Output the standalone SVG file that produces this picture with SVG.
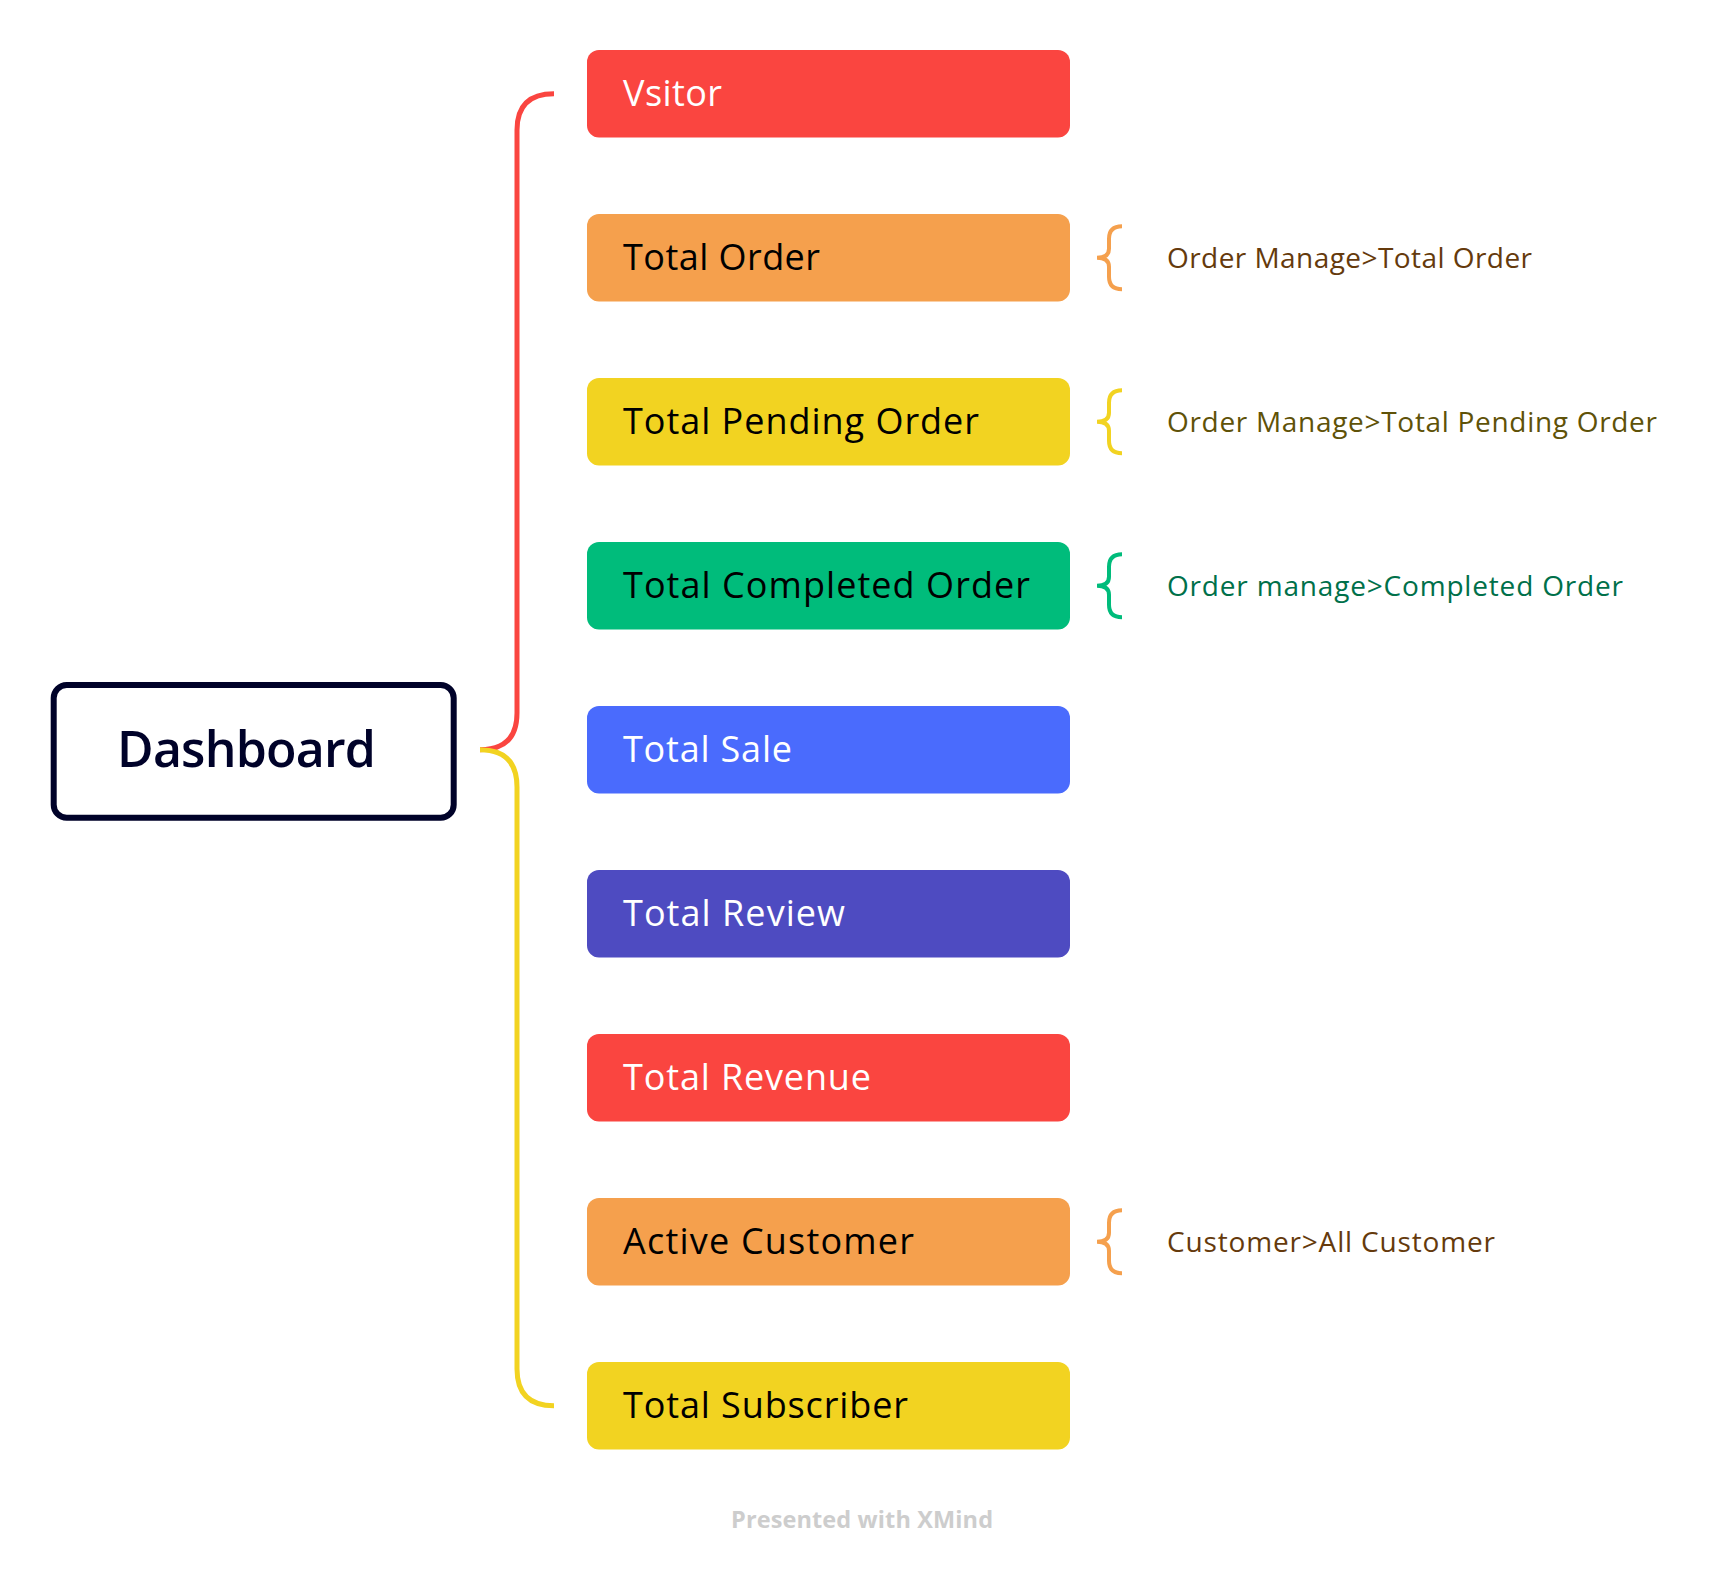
<svg xmlns="http://www.w3.org/2000/svg" width="1724" height="1570" viewBox="0 0 1724 1570">
<style>
.bg{fill:#ffffff}
.node rect{rx:12px;ry:12px}
.nt{font-family:"Open Sans","Noto Sans","Liberation Sans",sans-serif;font-size:36px}
.lbl{font-family:"Open Sans","Noto Sans","Liberation Sans",sans-serif;font-size:28px}
.w{fill:#ffffff}
.k{fill:#000000}
.br{fill:none;stroke-width:4;stroke-linecap:butt}
.main{fill:none;stroke-width:5;stroke-linecap:butt}
</style>
<rect class="bg" x="0" y="0" width="1724" height="1570"/>
<g id="connectors">
<path class="main" stroke="#FA4540" d="M554,93.75 Q517,93.75 517,130 L517,713 Q517,749.75 480,749.75"/>
<path class="main" stroke="#F2D321" d="M480,749.75 Q517,749.75 517,787 L517,1369 Q517,1405.75 554,1405.75"/>
</g>
<g id="dashboard">
<rect x="53.7" y="685" width="400" height="132.7" rx="13" ry="13" fill="#ffffff" stroke="#000229" stroke-width="6"/>
<text x="117" y="767" font-family="'Open Sans','Noto Sans','Liberation Sans',sans-serif" font-size="50" font-weight="600" fill="#000229" textLength="259">Dashboard</text>
</g>
<g id="node-vsitor" class="node">
<rect x="587" y="50" width="483" height="87.5" fill="#FA4540"/>
<text class="nt w" x="623" y="106.3" textLength="99">Vsitor</text>
</g>
<g id="node-total-order" class="node">
<rect x="587" y="214" width="483" height="87.5" fill="#F5A04D"/>
<text class="nt k" x="623" y="270.3" textLength="197">Total Order</text>
</g>
<g id="node-total-pending-order" class="node">
<rect x="587" y="378" width="483" height="87.5" fill="#F2D321"/>
<text class="nt k" x="623" y="434.3" textLength="356">Total Pending Order</text>
</g>
<g id="node-total-completed-order" class="node">
<rect x="587" y="542" width="483" height="87.5" fill="#00BC7B"/>
<text class="nt k" x="623" y="598.3" textLength="407">Total Completed Order</text>
</g>
<g id="node-total-sale" class="node">
<rect x="587" y="706" width="483" height="87.5" fill="#4A6BFD"/>
<text class="nt w" x="623" y="762.3" textLength="169">Total Sale</text>
</g>
<g id="node-total-review" class="node">
<rect x="587" y="870" width="483" height="87.5" fill="#4E4BC1"/>
<text class="nt w" x="623" y="926.3" textLength="222">Total Review</text>
</g>
<g id="node-total-revenue" class="node">
<rect x="587" y="1034" width="483" height="87.5" fill="#FA4540"/>
<text class="nt w" x="623" y="1090.3" textLength="248">Total Revenue</text>
</g>
<g id="node-active-customer" class="node">
<rect x="587" y="1198" width="483" height="87.5" fill="#F5A04D"/>
<text class="nt k" x="623" y="1254.3" textLength="291">Active Customer</text>
</g>
<g id="node-total-subscriber" class="node">
<rect x="587" y="1362" width="483" height="87.5" fill="#F2D321"/>
<text class="nt k" x="623" y="1418.3" textLength="285">Total Subscriber</text>
</g>
<g id="summary-total-order">
<path class="br" stroke="#F5A04D" d="M1122,226.25 Q1109,226.25 1109,238.75 L1109,248.75 Q1109,257.75 1097,257.75 Q1109,257.75 1109,266.75 L1109,276.75 Q1109,289.25 1122,289.25"/>
<text class="lbl" x="1167" y="268" fill="#653A0C" textLength="365">Order Manage&gt;Total Order</text>
</g>
<g id="summary-total-pending-order">
<path class="br" stroke="#F2D321" d="M1122,390.25 Q1109,390.25 1109,402.75 L1109,412.75 Q1109,421.75 1097,421.75 Q1109,421.75 1109,430.75 L1109,440.75 Q1109,453.25 1122,453.25"/>
<text class="lbl" x="1167" y="432" fill="#5F5208" textLength="490">Order Manage&gt;Total Pending Order</text>
</g>
<g id="summary-total-completed-order">
<path class="br" stroke="#00BC7B" d="M1122,554.25 Q1109,554.25 1109,566.75 L1109,576.75 Q1109,585.75 1097,585.75 Q1109,585.75 1109,594.75 L1109,604.75 Q1109,617.25 1122,617.25"/>
<text class="lbl" x="1167" y="596" fill="#00704A" textLength="456">Order manage&gt;Completed Order</text>
</g>
<g id="summary-active-customer">
<path class="br" stroke="#F5A04D" d="M1122,1210.25 Q1109,1210.25 1109,1222.75 L1109,1232.75 Q1109,1241.75 1097,1241.75 Q1109,1241.75 1109,1250.75 L1109,1260.75 Q1109,1273.25 1122,1273.25"/>
<text class="lbl" x="1167" y="1252" fill="#653A0C" textLength="328">Customer&gt;All Customer</text>
</g>
<text x="731" y="1528" font-family="'Open Sans','Noto Sans','Liberation Sans',sans-serif" font-size="23.5" font-weight="bold" fill="#CDCDCD" textLength="262">Presented with XMind</text>
</svg>
